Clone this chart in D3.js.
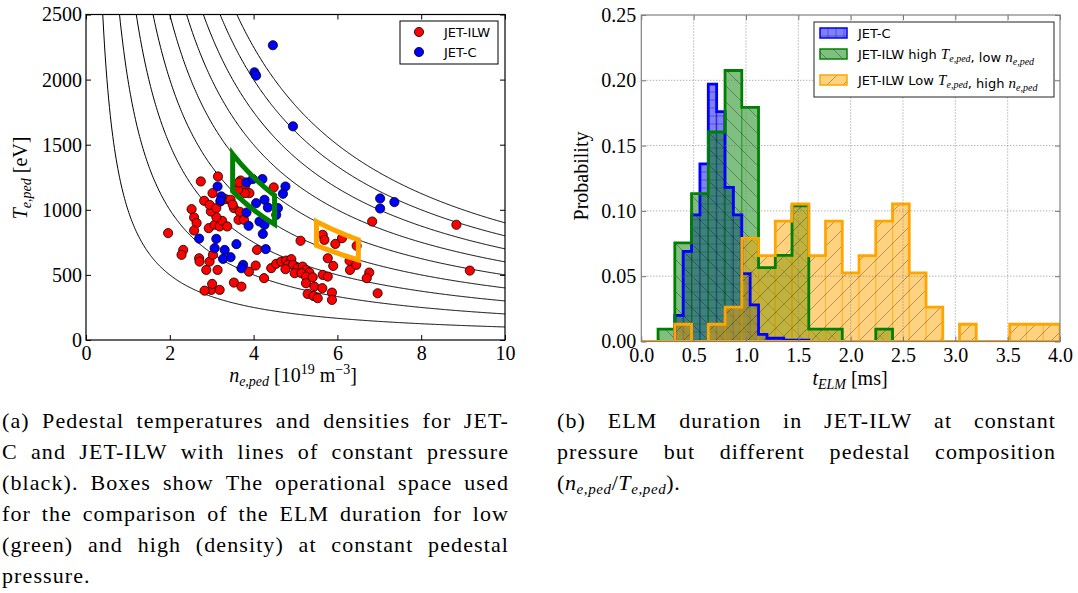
<!DOCTYPE html>
<html>
<head>
<meta charset="utf-8">
<script src="https://cdn.jsdelivr.net/npm/d3@7"></script>
<style>
  body { margin: 0; background: #fff; }
  svg { display: block; }
</style>
</head>
<body>
<svg id="fig" width="1078" height="593"></svg>
<script>
// ---- data (a): pedestal n_e [1e19 m^-3], T_e [eV]
const jetIlwPoints = [
  [3.15,1256],[2.74,1218],[3.02,1128],[2.82,1069],[2.52,1005],[2.58,941],[2.64,898],[2.58,841],
  [1.96,821],[2.93,859],[3.07,885],[3.19,872],[3.25,915],[3.37,872],[3.11,944],[2.98,987],
  [2.95,1038],[3.11,1013],[3.21,1064],[3.33,1082],[3.45,1077],[3.53,1013],[3.64,923],[3.77,923],
  [3.69,1225],[3.79,1179],[3.90,1128],[3.79,1128],[3.63,1154],[4.48,1172],[3.65,1210],[3.50,1040],
  [3.67,985],[2.32,692],[2.28,654],[2.70,628],[2.71,602],[2.95,602],[3.03,654],[3.14,538],
  [2.87,538],[2.99,385],[2.83,379],[3.19,385],[3.53,441],[3.71,410],[3.01,431],[3.89,525],
  [4.05,572],[4.08,692],[4.25,475],[5.12,762],[4.42,552],[4.54,585],[4.66,602],[4.78,610],
  [4.90,621],[4.82,577],[4.94,577],[5.05,552],[5.17,564],[5.25,538],[5.33,518],[4.76,544],
  [4.98,513],[5.14,513],[5.25,487],[5.41,482],[5.65,500],[5.77,487],[5.25,436],[5.45,410],
  [5.64,398],[5.29,354],[5.43,338],[5.53,321],[5.87,364],[5.87,308],[5.77,628],[5.90,569],
  [6.30,538],[6.29,608],[6.45,577],[6.76,518],[6.70,475],[6.96,359],[6.83,910],[5.65,808],
  [5.69,769],[5.95,738],[6.11,782],[6.46,723],[8.84,885],[9.16,533]
];
const jetCPoints = [
  [4.46,2264],[4.02,2056],[4.06,2031],[4.94,1641],[7.02,1087],[7.36,1059],[7.02,1010],
  [3.14,1179],[3.23,1103],[3.21,1069],[3.83,1210],[3.98,1236],[4.21,1236],[4.76,1179],
  [4.70,1123],[4.26,1077],[4.06,1051],[4.34,1018],[4.58,1013],[4.54,961],[3.83,979],
  [4.14,910],[4.26,885],[3.88,877],[4.22,815],[2.70,779],[3.11,777],[3.59,736],[3.07,705],
  [3.31,692],[4.29,698],[3.45,636],[3.27,623],[3.75,577],[3.71,551]
];
const pressureLevels = [1000, 2000, 3000, 4000, 5000, 6000, 7000, 8000, 9000];
const greenBoxN = [3.5, 4.5], greenBoxP = [4000, 5000];
const orangeBoxN = [5.5, 6.5], orangeBoxP = [4000, 5000];
const densityTicks = [0, 2, 4, 6, 8, 10];
const tempTicks = [0, 500, 1000, 1500, 2000, 2500];

// ---- data (b): ELM duration histograms (probability per bin)
const jetCEdges = [0.32,0.40,0.48,0.56,0.64,0.72,0.80,0.88,0.96,1.04,1.12,1.20,1.28,1.36,1.44,1.52,1.60];
const jetCProb = [0.020,0.069,0.097,0.136,0.197,0.176,0.118,0.097,0.052,0.028,0.0055,0.0025,0.0025,0.001,0.001,0.001];
const highTEdges = [0,0.16,0.32,0.48,0.64,0.80,0.96,1.12,1.28,1.44,1.60,1.76,1.92,2.08,2.24,2.40];
const highTProb = [0,0.0094,0.0755,0.1132,0.1604,0.2075,0.1792,0.0566,0.0660,0.1038,0.0094,0.0094,0,0,0.0094];
const lowTEdges = [0,0.16,0.32,0.48,0.64,0.80,0.96,1.12,1.28,1.44,1.60,1.76,1.92,2.08,2.24,2.40,2.56,2.72,2.88,3.04,3.20,3.36,3.52,3.68,3.84,4.00];
const lowTProb = [0,0,0.0132,0,0.0132,0.0263,0.0789,0.0658,0.0921,0.1053,0.0658,0.0921,0.0526,0.0658,0.0921,0.1053,0.0526,0.0263,0,0.0132,0,0,0.0132,0.0132,0.0132];
const elmTicks = [0, 0.5, 1.0, 1.5, 2.0, 2.5, 3.0, 3.5, 4.0];
const probTicks = [0, 0.05, 0.10, 0.15, 0.20, 0.25];

const captionA = [
  "(a) Pedestal temperatures and densities for JET-",
  "C and JET-ILW with lines of constant pressure",
  "(black).  Boxes show The operational space used",
  "for the comparison of the ELM duration for low",
  "(green) and high (density) at constant pedestal",
  "pressure."
];
const captionB = [
  "(b) ELM duration in JET-ILW at constant",
  "pressure but different pedestal composition"
];

const SERIF = "'Liberation Serif', 'DejaVu Serif', serif";
const SANS = "'DejaVu Sans', 'Liberation Sans', sans-serif";

const svg = d3.select('#fig');
const defs = svg.append('defs');

// ================= panel (a) =================
const xL = d3.scaleLinear().domain([0, 10]).range([86, 505]);
const yL = d3.scaleLinear().domain([0, 2500]).range([340, 14.5]);

defs.append('clipPath').attr('id', 'clipL').append('rect')
  .attr('x', 86).attr('y', 14.5).attr('width', 419).attr('height', 325.5);

let panelA = svg.append('g');
let plotA = panelA.append('g').attr('clip-path', 'url(#clipL)');

let curveN = d3.range(0.3, 10.02, 0.02);
let lineL = d3.line().x(d => xL(d[0])).y(d => yL(d[1]));

pressureLevels.forEach(p => {
  plotA.append('path')
    .attr('d', lineL(curveN.map(n => [n, p / n])))
    .attr('fill', 'none').attr('stroke', '#000').attr('stroke-width', 1);
});

plotA.selectAll('.ilw').data(jetIlwPoints).enter().append('circle')
  .attr('cx', d => xL(d[0])).attr('cy', d => yL(d[1])).attr('r', 4.6)
  .attr('fill', '#ff0000').attr('stroke', '#000').attr('stroke-width', 0.8);

plotA.selectAll('.jc').data(jetCPoints).enter().append('circle')
  .attr('cx', d => xL(d[0])).attr('cy', d => yL(d[1])).attr('r', 4.6)
  .attr('fill', '#0000ff').attr('stroke', '#000').attr('stroke-width', 0.8);

// operational-space boxes: bounded by constant n and constant pressure
function boxPoints(nr, pr) {
  let steps = d3.range(0, 1.0001, 0.05);
  let top = steps.map(s => { let n = nr[0] + s * (nr[1] - nr[0]); return [n, pr[1] / n]; });
  let bottom = steps.map(s => { let n = nr[1] - s * (nr[1] - nr[0]); return [n, pr[0] / n]; });
  return top.concat(bottom);
}
[[greenBoxN, greenBoxP, '#008000'], [orangeBoxN, orangeBoxP, '#ffa500']].forEach(b => {
  plotA.append('path')
    .attr('d', lineL(boxPoints(b[0], b[1])) + 'Z')
    .attr('fill', 'none').attr('stroke', b[2]).attr('stroke-width', 5)
    .attr('stroke-linejoin', 'miter');
});

// axes (ticks inward on all four sides)
function styleAxis(g, color) {
  g.select('.domain').remove();
  g.attr('font-family', SERIF).attr('font-size', 20);
  g.selectAll('line').attr('stroke', color);
  g.selectAll('text').attr('fill', '#000');
}
panelA.append('g').attr('transform', 'translate(0,340)')
  .call(d3.axisBottom(xL).tickValues(densityTicks).tickSizeInner(-5).tickSizeOuter(0).tickPadding(6).tickFormat(d3.format('d')))
  .call(g => styleAxis(g, '#000'));
panelA.append('g').attr('transform', 'translate(86,0)')
  .call(d3.axisLeft(yL).tickValues(tempTicks).tickSizeInner(-5).tickSizeOuter(0).tickPadding(4).tickFormat(d3.format('d')))
  .call(g => styleAxis(g, '#000'));
panelA.append('g').attr('transform', 'translate(0,14.5)')
  .call(d3.axisTop(xL).tickValues(densityTicks).tickSizeInner(-5).tickSizeOuter(0).tickFormat(''))
  .call(g => styleAxis(g, '#000'));
panelA.append('g').attr('transform', 'translate(505,0)')
  .call(d3.axisRight(yL).tickValues(tempTicks).tickSizeInner(-5).tickSizeOuter(0).tickFormat(''))
  .call(g => styleAxis(g, '#000'));

panelA.append('rect').attr('x', 86).attr('y', 14.5).attr('width', 419).attr('height', 325.5)
  .attr('fill', 'none').attr('stroke', '#000').attr('stroke-width', 1.2);

// legend (a)
let legA = panelA.append('g');
legA.append('rect').attr('x', 400).attr('y', 21).attr('width', 98).attr('height', 43)
  .attr('fill', '#fff').attr('stroke', '#000').attr('stroke-width', 1);
[['JET-ILW', '#ff0000', 32], ['JET-C', '#0000ff', 52]].forEach(e => {
  legA.append('circle').attr('cx', 419).attr('cy', e[2]).attr('r', 4.6)
    .attr('fill', e[1]).attr('stroke', '#000').attr('stroke-width', 0.8);
  legA.append('text').attr('x', 444).attr('y', e[2] + 4.6)
    .attr('font-family', SANS).attr('font-size', 13).text(e[0]);
});

// axis labels (a)
let yLab = panelA.append('text').attr('transform', 'translate(27,178) rotate(-90)')
  .attr('text-anchor', 'middle').attr('font-family', SERIF).attr('font-size', 20);
yLab.append('tspan').attr('font-style', 'italic').text('T');
yLab.append('tspan').attr('font-style', 'italic').attr('font-size', 14).attr('dy', 4).text('e,ped');
yLab.append('tspan').attr('dy', -4).text(' [eV]');

let xLab = panelA.append('text').attr('x', 293).attr('y', 382)
  .attr('text-anchor', 'middle').attr('font-family', SERIF).attr('font-size', 20);
xLab.append('tspan').attr('font-style', 'italic').text('n');
xLab.append('tspan').attr('font-style', 'italic').attr('font-size', 14).attr('dy', 4).text('e,ped');
xLab.append('tspan').attr('dy', -4).text(' [10');
xLab.append('tspan').attr('font-size', 14).attr('dy', -8).text('19');
xLab.append('tspan').attr('dy', 8).text('  m');
xLab.append('tspan').attr('font-size', 14).attr('dy', -8).text('\u22123');
xLab.append('tspan').attr('dy', 8).text(']');

// ================= panel (b) =================
const xR = d3.scaleLinear().domain([0, 4]).range([641.3, 1060]);
const yR = d3.scaleLinear().domain([0, 0.25]).range([341.5, 15]);

defs.append('clipPath').attr('id', 'clipR').append('rect')
  .attr('x', 641.3).attr('y', 15).attr('width', 418.7).attr('height', 326.5);

function hatch(id, size, paths) {
  let p = defs.append('pattern').attr('id', id).attr('patternUnits', 'userSpaceOnUse')
    .attr('width', size).attr('height', size);
  paths.forEach(d => p.append('path').attr('d', d).attr('stroke', 'rgba(0,0,0,0.38)')
    .attr('stroke-width', 0.8).attr('fill', 'none'));
}
hatch('hPlus', 8, ['M0,4H8', 'M4,0V8']);
hatch('hBack', 16, ['M-4,-4L20,20', 'M-4,12L4,20', 'M12,-4L20,4']);
hatch('hFwd', 16, ['M-4,20L20,-4', 'M-4,4L4,-4', 'M12,20L20,12']);

const series = [
  { edges: jetCEdges, prob: jetCProb, color: '#0000ff', fill: 'rgba(0,0,255,0.5)', hatch: 'hPlus' },
  { edges: highTEdges, prob: highTProb, color: '#008000', fill: 'rgba(0,128,0,0.5)', hatch: 'hBack' },
  { edges: lowTEdges, prob: lowTProb, color: '#ffa500', fill: 'rgba(255,165,0,0.5)', hatch: 'hFwd' }
];

let panelB = svg.append('g');
let plotB = panelB.append('g').attr('clip-path', 'url(#clipR)');

function stepPath(s) {
  let d = 'M' + xR(s.edges[0]) + ',' + yR(0);
  s.prob.forEach((v, i) => {
    d += 'V' + yR(v) + 'H' + xR(s.edges[i + 1]);
  });
  return d + 'V' + yR(0) + 'Z';
}

series.forEach(s => {
  let bins = s.prob.map((v, i) => ({ x0: s.edges[i], x1: s.edges[i + 1], v: v }));
  let g = plotB.append('g');
  g.selectAll('rect.fill').data(bins).enter().append('rect')
    .attr('x', d => xR(d.x0)).attr('width', d => xR(d.x1) - xR(d.x0))
    .attr('y', d => yR(d.v)).attr('height', d => yR(0) - yR(d.v))
    .attr('fill', s.fill).attr('stroke', s.color).attr('stroke-opacity', 0.45).attr('stroke-width', 1);
  g.append('path').attr('d', stepPath(s)).attr('fill', 'url(#' + s.hatch + ')');
});
series.forEach(s => {
  plotB.append('path').attr('d', stepPath(s)).attr('fill', 'none')
    .attr('stroke', s.color).attr('stroke-width', 2.8).attr('stroke-linejoin', 'miter');
});

// dotted grid on top
elmTicks.slice(1, -1).forEach(t => {
  plotB.append('line').attr('x1', xR(t)).attr('x2', xR(t)).attr('y1', yR(0)).attr('y2', yR(0.25))
    .attr('stroke', '#777').attr('stroke-width', 0.8).attr('stroke-dasharray', '1,2');
});
probTicks.slice(1, -1).forEach(t => {
  plotB.append('line').attr('x1', xR(0)).attr('x2', xR(4)).attr('y1', yR(t)).attr('y2', yR(t))
    .attr('stroke', '#777').attr('stroke-width', 0.8).attr('stroke-dasharray', '1,2');
});

panelB.append('g').attr('transform', 'translate(0,341.5)')
  .call(d3.axisBottom(xR).tickValues(elmTicks).tickSizeInner(-5).tickSizeOuter(0).tickPadding(6).tickFormat(d3.format('.1f')))
  .call(g => styleAxis(g, '#777'));
panelB.append('g').attr('transform', 'translate(641.3,0)')
  .call(d3.axisLeft(yR).tickValues(probTicks).tickSizeInner(-5).tickSizeOuter(0).tickPadding(5).tickFormat(d3.format('.2f')))
  .call(g => styleAxis(g, '#777'));
panelB.append('g').attr('transform', 'translate(0,15)')
  .call(d3.axisTop(xR).tickValues(elmTicks).tickSizeInner(-5).tickSizeOuter(0).tickFormat(''))
  .call(g => styleAxis(g, '#777'));
panelB.append('g').attr('transform', 'translate(1060,0)')
  .call(d3.axisRight(yR).tickValues(probTicks).tickSizeInner(-5).tickSizeOuter(0).tickFormat(''))
  .call(g => styleAxis(g, '#777'));

panelB.append('rect').attr('x', 641.3).attr('y', 15).attr('width', 418.7).attr('height', 326.5)
  .attr('fill', 'none').attr('stroke', '#808080').attr('stroke-width', 1.2);

// legend (b)
let legB = panelB.append('g');
legB.append('rect').attr('x', 814).attr('y', 22).attr('width', 240).attr('height', 75)
  .attr('fill', '#fff').attr('stroke', '#222').attr('stroke-width', 1);
const legRows = [33, 54, 80];
series.forEach((s, i) => {
  let cy = legRows[i];
  legB.append('rect').attr('x', 820).attr('y', cy - 5).attr('width', 27).attr('height', 10)
    .attr('fill', s.fill);
  legB.append('rect').attr('x', 820).attr('y', cy - 5).attr('width', 27).attr('height', 10)
    .attr('fill', 'url(#' + s.hatch + ')').attr('stroke', s.color).attr('stroke-width', 1.5);
});
function legText(y, parts) {
  let t = legB.append('text').attr('x', 858).attr('y', y).attr('font-family', SANS).attr('font-size', 13);
  parts.forEach(p => {
    if (p[0] === 'm') {
      t.append('tspan').attr('font-family', SERIF).attr('font-style', 'italic').attr('font-size', 15).text(p[1]);
      t.append('tspan').attr('font-family', SERIF).attr('font-style', 'italic').attr('font-size', 10).attr('dy', 3).text('e,ped');
      t.append('tspan').attr('dy', -3).text('');
    } else {
      t.append('tspan').text(p[1]);
    }
  });
}
legText(legRows[0] + 4.6, [['t', 'JET-C']]);
legText(legRows[1] + 4.6, [['t', 'JET-ILW high '], ['m', 'T'], ['t', ', low '], ['m', 'n']]);
legText(legRows[2] + 4.6, [['t', 'JET-ILW Low '], ['m', 'T'], ['t', ', high '], ['m', 'n']]);

// axis labels (b)
panelB.append('text').attr('transform', 'translate(588,176) rotate(-90)')
  .attr('text-anchor', 'middle').attr('font-family', SERIF).attr('font-size', 20).text('Probability');
let tLab = panelB.append('text').attr('x', 850).attr('y', 385)
  .attr('text-anchor', 'middle').attr('font-family', SERIF).attr('font-size', 20);
tLab.append('tspan').attr('font-style', 'italic').text('t');
tLab.append('tspan').attr('font-style', 'italic').attr('font-size', 14).attr('dy', 4).text('ELM');
tLab.append('tspan').attr('dy', -4).text(' [ms]');

// ================= captions =================
function justify(lines, x0, width, y0, lh, lastIsText) {
  lines.forEach((line, i) => {
    let words = line.split(' ').filter(w => w.length);
    let y = y0 + i * lh;
    let nodes = words.map(w => svg.append('text').attr('y', y)
      .attr('font-family', SERIF).attr('font-size', 22).attr('letter-spacing', 1.1).text(w));
    let widths = nodes.map(n => n.node().getComputedTextLength());
    let last = lastIsText && i === lines.length - 1;
    let gap = last ? 5.5 : (width - d3.sum(widths)) / (words.length - 1);
    let x = x0;
    nodes.forEach((n, k) => { n.attr('x', x); x += widths[k] + gap; });
  });
}
justify(captionA, 2, 507, 428, 31, true);
justify(captionB, 557, 499, 428, 31, false);

let capMath = svg.append('text').attr('x', 557).attr('y', 490)
  .attr('font-family', SERIF).attr('font-size', 22).attr('letter-spacing', 0.6);
capMath.append('tspan').text('(');
capMath.append('tspan').attr('font-style', 'italic').text('n');
capMath.append('tspan').attr('font-style', 'italic').attr('font-size', 15).attr('dy', 4).text('e,ped');
capMath.append('tspan').attr('dy', -4).text('/');
capMath.append('tspan').attr('font-style', 'italic').text('T');
capMath.append('tspan').attr('font-style', 'italic').attr('font-size', 15).attr('dy', 4).text('e,ped');
capMath.append('tspan').attr('dy', -4).text(').');
</script>
</body>
</html>
